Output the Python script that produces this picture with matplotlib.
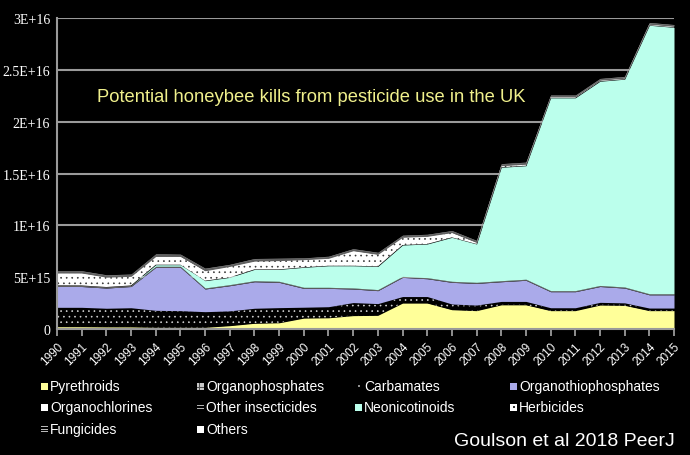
import matplotlib
matplotlib.use("Agg")
import matplotlib.pyplot as plt
from matplotlib.patches import Rectangle

plt.rcParams["hatch.linewidth"] = 0.45

# ── data (units of 1E15 potential bee kills) ─────────────────────────────────
years = list(range(1990, 2016))

pyrethroids = [0.22, 0.22, 0.20, 0.20, 0.16, 0.16, 0.16, 0.32, 0.55, 0.60, 1.05, 1.08, 1.29,
               1.32, 2.50, 2.50, 1.86, 1.77, 2.33, 2.33, 1.77, 1.77, 2.31, 2.28, 1.77, 1.77]
organophosphates = [1.82, 1.82, 1.75, 1.80, 1.59, 1.56, 1.46, 1.38, 1.40, 1.41, 1.00, 1.02, 1.21,
                    1.08, 0.58, 0.58, 0.50, 0.49, 0.28, 0.28, 0.23, 0.23, 0.21, 0.19, 0.20, 0.20]
carbamates = [0.05, 0.05, 0.05, 0.05, 0.05, 0.05, 0.05, 0.05, 0.05, 0.05, 0.05, 0.05, 0.05,
              0.05, 0.05, 0.05, 0.05, 0.05, 0.05, 0.05, 0.05, 0.05, 0.05, 0.05, 0.05, 0.05]
organothiophosphates = [2.02, 2.01, 1.95, 2.05, 4.15, 4.18, 2.19, 2.43, 2.56, 2.44, 1.82, 1.77, 1.31,
                        1.25, 1.85, 1.72, 2.09, 2.09, 1.90, 2.04, 1.55, 1.55, 1.53, 1.43, 1.28, 1.28]
organochlorines = [0.05, 0.05, 0.05, 0.05, 0.05, 0.05, 0.05, 0.05, 0.05, 0.05, 0.05, 0.05, 0.05,
                   0.05, 0.05, 0.05, 0.05, 0.05, 0.05, 0.05, 0.05, 0.05, 0.05, 0.05, 0.05, 0.05]
other_insecticides = [0.05, 0.05, 0.05, 0.05, 0.05, 0.05, 0.05, 0.05, 0.05, 0.05, 0.05, 0.05, 0.05,
                      0.05, 0.05, 0.05, 0.05, 0.05, 0.05, 0.05, 0.05, 0.05, 0.05, 0.05, 0.05, 0.05]
neonicotinoids = [0.00, 0.00, 0.00, 0.00, 0.15, 0.15, 0.70, 0.70, 1.09, 1.15, 1.93, 2.08, 2.14,
                  2.24, 3.02, 3.25, 4.24, 3.70, 10.94, 10.95, 18.60, 18.60, 19.70, 20.05, 25.90, 25.70]
herbicides = [1.19, 1.20, 0.95, 0.88, 0.80, 0.80, 0.96, 1.06, 0.80, 0.85, 0.74, 0.72, 1.45,
              1.16, 0.75, 0.74, 0.46, 0.15, 0.15, 0.15, 0.10, 0.10, 0.10, 0.10, 0.10, 0.10]
fungicides = [0.17, 0.17, 0.18, 0.17, 0.20, 0.17, 0.20, 0.15, 0.20, 0.18, 0.12, 0.15, 0.15,
              0.15, 0.15, 0.15, 0.15, 0.15, 0.15, 0.15, 0.12, 0.12, 0.12, 0.12, 0.12, 0.12]
others = [0.05, 0.05, 0.05, 0.05, 0.05, 0.05, 0.05, 0.05, 0.05, 0.05, 0.05, 0.05, 0.05,
          0.05, 0.05, 0.05, 0.05, 0.05, 0.05, 0.05, 0.05, 0.05, 0.05, 0.05, 0.05, 0.05]

labels = ["Pyrethroids", "Organophosphates", "Carbamates", "Organothiophosphates",
          "Organochlorines", "Other insecticides", "Neonicotinoids", "Herbicides",
          "Fungicides", "Others"]
series = [pyrethroids, organophosphates, carbamates, organothiophosphates,
          organochlorines, other_insecticides, neonicotinoids, herbicides,
          fungicides, others]
yticks = [0, 5e15, 1e16, 1.5e16, 2e16, 2.5e16, 3e16]
ytick_labels = ["0", "5E+15", "1E+16", "1.5E+16", "2E+16", "2.5E+16", "3E+16"]

# ── styles ───────────────────────────────────────────────────────────────────
BG = "#000000"
GRID = "#9A9A9A"
styles = [
    dict(fc="#FFFF99", ec="#FFFF99", hatch=None),   # pyrethroids
    dict(fc="#000000", ec="#D8D8D8", hatch="..."),  # organophosphates
    dict(fc="#000000", ec="#000000", hatch=None),   # carbamates
    dict(fc="#AAAAEA", ec="#AAAAEA", hatch=None),   # organothiophosphates
    dict(fc="#5A5A5A", ec="#5A5A5A", hatch=None),   # organochlorines
    dict(fc="#9A9A9A", ec="#9A9A9A", hatch=None),   # other insecticides
    dict(fc="#BBFFEC", ec="#BBFFEC", hatch=None),   # neonicotinoids
    dict(fc="#FFFFFF", ec="#333333", hatch="..."),  # herbicides
    dict(fc="#606060", ec="#606060", hatch=None),   # fungicides
    dict(fc="#B0B0B0", ec="#B0B0B0", hatch=None),   # others
]
# legend marker kind per series
legend_kind = ["#FFFF99", "grid", "dot", "#AAAAEA", "#FFFFFF",
               "eq", "#BBFFEC", "herb", "triple", "#FFFFFF"]

W, H = 690, 456
fig = plt.figure(figsize=(W / 100, H / 100), dpi=100)
fig.patch.set_facecolor(BG)
ax = fig.add_axes([57 / W, 1 - 330 / H, (674 - 57) / W, (330 - 19) / H])
ax.set_facecolor(BG)

vals = [[v * 1e15 for v in s] for s in series]
polys = ax.stackplot(years, *vals, linewidth=0)
for p, st in zip(polys, styles):
    p.set_facecolor(st["fc"])
    p.set_edgecolor(st["ec"])
    if st["hatch"]:
        p.set_hatch(st["hatch"])
    p.set_linewidth(0)
    p.set_zorder(3)

ax.set_xlim(1990, 2015)
ax.set_ylim(0, 3e16)
ax.set_yticks(yticks)
ax.set_yticklabels(ytick_labels, family="Liberation Serif", fontsize=10, color="white")
ax.set_xticks(years)
ax.set_xticklabels([str(y) for y in years], rotation=45, ha="right",
                   rotation_mode="anchor", family="Liberation Sans",
                   fontsize=8.5, color="white")
ax.tick_params(axis="y", length=0, pad=5)
ax.tick_params(axis="x", length=5, color=GRID, width=1.3, direction="out", pad=3)
ax.yaxis.grid(True, color=GRID, linewidth=1.5, zorder=1)
ax.set_axisbelow(True)
for side in ("top", "right"):
    ax.spines[side].set_visible(False)
for side in ("left", "bottom"):
    ax.spines[side].set_color(GRID)
    ax.spines[side].set_linewidth(1.5)
    ax.spines[side].set_zorder(4)

ax.text((97 - 57) / (674 - 57), 1 - (97 - 19) / (330 - 19),
        "Potential honeybee kills from pesticide use in the UK",
        transform=ax.transAxes, ha="left", va="center",
        family="Liberation Sans", fontsize=13.2, color="#F0F08C")


# ── legend (4 columns x 3 rows) ──────────────────────────────────────────────
def px_rect(x, y, w, h, color):
    fig.add_artist(Rectangle((x / W, 1 - (y + h) / H), w / W, h / H,
                             transform=fig.transFigure, facecolor=color,
                             linewidth=0))


col_x = [41, 197, 355, 510]
row_y = [387, 408, 430]
for i, (lab, kind) in enumerate(zip(labels, legend_kind)):
    cx = col_x[i % 4]
    cy = row_y[i // 4]
    top = cy - 3.5
    if kind == "grid":
        px_rect(cx, top, 7, 7, "#C8C8C8")
        for k in (2, 4.5):
            px_rect(cx + k, top, 0.8, 7, "#505050")
            px_rect(cx, top + k, 7, 0.8, "#505050")
    elif kind == "dot":
        px_rect(cx + 3, cy - 1, 1.5, 1.5, "#909090")
    elif kind == "eq":
        px_rect(cx, top + 1.5, 7, 1.2, "#B0B0B0")
        px_rect(cx, top + 4.5, 7, 1.2, "#B0B0B0")
    elif kind == "triple":
        for k in (0.5, 3, 5.5):
            px_rect(cx, top + k, 7, 1.1, "#B8B8B8")
    elif kind == "herb":
        px_rect(cx, top, 7, 7, "#FFFFFF")
        px_rect(cx + 2.5, top + 2.5, 2, 2, "#303030")
    else:
        px_rect(cx, top, 7, 7, kind)
    fig.text((cx + 9) / W, 1 - cy / H, lab, ha="left", va="center",
             family="Liberation Sans", fontsize=10, color="white")

fig.text(675 / W, 1 - 442 / H, "Goulson et al 2018 PeerJ", ha="right", va="center",
         family="Liberation Sans", fontsize=14, color="white")

fig.savefig("out.png", dpi=100, facecolor=BG)
